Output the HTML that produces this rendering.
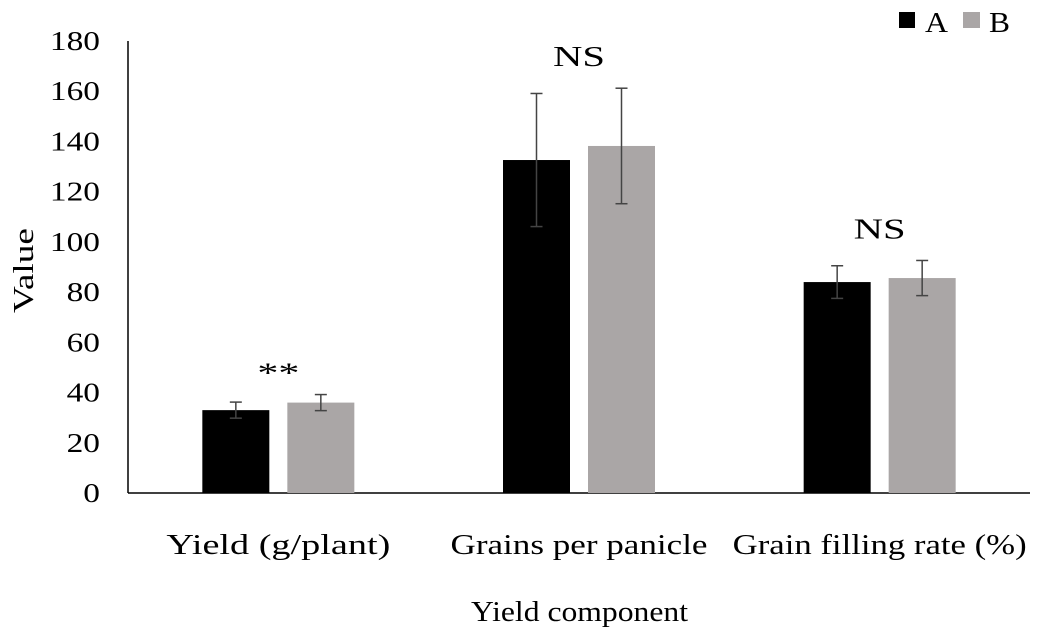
<!DOCTYPE html>
<html><head><meta charset="utf-8"><style>
body{margin:0;background:#fff;}
svg{display:block;font-family:"Liberation Serif",serif;}
</style></head><body>
<svg id="chart" width="1037" height="640" viewBox="0 0 1037 640" xmlns="http://www.w3.org/2000/svg">
<rect width="1037" height="640" fill="#fff"/>
<g id="axes"></g>
<g id="bars"></g>
<g id="labels"></g>
<text x="0" y="0" transform="translate(33,313) rotate(-90)" font-size="29" textLength="85" lengthAdjust="spacingAndGlyphs">Value</text>
<text x="471" y="621" font-size="28" textLength="217" lengthAdjust="spacingAndGlyphs">Yield component</text>
<g>
<rect x="899" y="12" width="16" height="16" fill="#000"/>
<text x="925" y="32" font-size="28" textLength="23" lengthAdjust="spacingAndGlyphs">A</text>
<rect x="963" y="12" width="17" height="16" fill="#aaa6a6"/>
<text x="989" y="32" font-size="28" textLength="21" lengthAdjust="spacingAndGlyphs">B</text>
</g>
</svg>
<script>
const categories=["Yield (g/plant)","Grains per panicle","Grain filling rate (%)"];
const seriesA=[33,132.6,84];
const seriesB=[36,138.2,85.6];
const errA=[3.2,26.5,6.5];
const errB=[3.2,23,7];
const sigLabels=["**","NS","NS"];
const yTicks=[0,20,40,60,80,100,120,140,160,180];
const NS="http://www.w3.org/2000/svg";
const y0=493,y1=41,yMax=180;
function yS(v){return y0-(v/yMax)*(y0-y1);}
const xL=128,xR=1030,gw=(xR-xL)/categories.length;
function xC(i){return xL+gw*(i+0.5);}
function mk(t,a,p){const e=document.createElementNS(NS,t);for(const k in a)e.setAttribute(k,a[k]);p.appendChild(e);return e;}
const axes=document.getElementById('axes'),bars=document.getElementById('bars'),labels=document.getElementById('labels');
let ax=mk('line',{x1:xL,y1:y1,x2:xL,y2:y0,stroke:'#000','stroke-width':1.5},axes);


let bx=mk('line',{x1:xL,y1:y0,x2:xR,y2:y0,stroke:'#000','stroke-width':1.5},axes);


yTicks.forEach(t=>{
 const s=String(t),w=s.length*16.7;
 const tx=mk('text',{x:100-w,y:yS(t)+9,'font-size':27,textLength:w,lengthAdjust:'spacingAndGlyphs'},axes);tx.textContent=s;
 
 
});
const catW=[224,257,294];
const bw=67;
categories.forEach((c,i)=>{
 const cx=xC(i);
 [[seriesA[i],errA[i],'#000',cx-bw-9,'a'],[seriesB[i],errB[i],'#aaa6a6',cx+9,'b']].forEach(([v,e,col,x,s])=>{
  const r=mk('rect',{x:x,y:yS(v),width:bw,height:y0-yS(v),fill:col},bars);
  
  
  const m=x+bw/2;
  const g=mk('g',{stroke:'#444','stroke-width':1.5},bars);
  
  
  mk('line',{x1:m,x2:m,y1:yS(v+e),y2:yS(v-e)},g);
  mk('line',{x1:m-6,x2:m+6,y1:yS(v+e),y2:yS(v+e)},g);
  mk('line',{x1:m-6,x2:m+6,y1:yS(v-e),y2:yS(v-e)},g);
 });
 const top=Math.max(seriesA[i]+errA[i],seriesB[i]+errB[i]);
 const isStar=sigLabels[i]=='**';
 const sw=isStar?42:52;
 const sl=mk('text',{x:cx-sw/2,y:yS(top)-(isStar?12:22),'font-size':29,textLength:sw,lengthAdjust:'spacingAndGlyphs'},labels);
 sl.textContent=sigLabels[i];
 
 
 const cl=mk('text',{x:cx-catW[i]/2,y:554,'font-size':28,textLength:catW[i],lengthAdjust:'spacingAndGlyphs'},labels);
 cl.textContent=c;
 
 
});
</script>
</body></html>
